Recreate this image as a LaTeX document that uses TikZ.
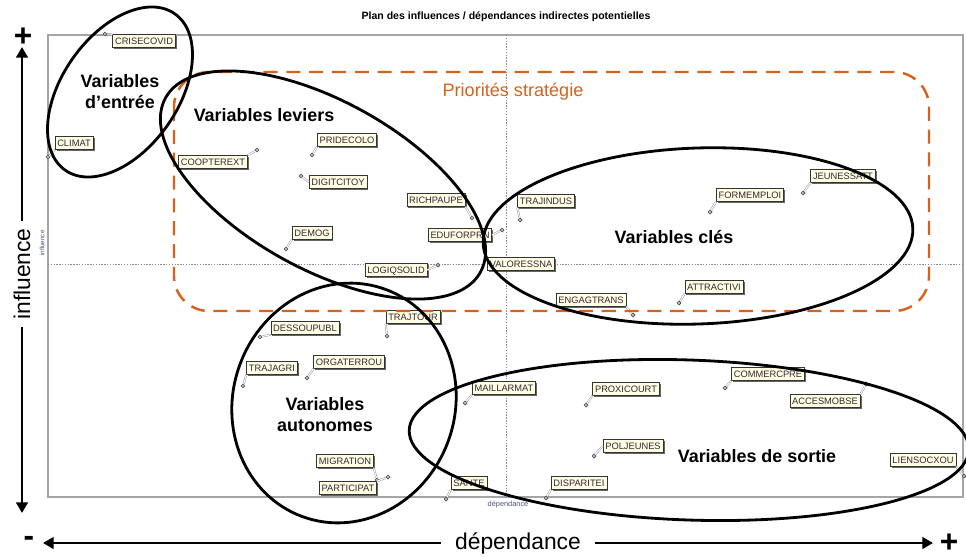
\documentclass[tikz,border=0pt]{standalone}
\usepackage{fontspec}
\setmainfont{Liberation Sans}
\usetikzlibrary{arrows.meta,shadows}
\definecolor{prio}{RGB}{214,98,28}
\definecolor{cream}{RGB}{255,255,228}
\definecolor{vartext}{RGB}{55,35,55}
\definecolor{framegray}{RGB}{165,165,165}
\definecolor{captxt}{RGB}{70,85,125}
\begin{document}
\begin{tikzpicture}[x=0.02cm,y=-0.02cm,
  varbox/.style={draw=black!80, line width=0.35pt, fill=cream, text=vartext,
    font=\fontsize{5.3}{6}\selectfont, inner xsep=1.3pt, inner ysep=1.7pt,
    text height=3.9pt, text depth=0pt,
    drop shadow={shadow xshift=0.9pt, shadow yshift=-0.9pt, fill=black!60, opacity=1}},
  varpt/.style={circle, draw=black!65, fill=black!20, line width=0.45pt,
    inner sep=0pt, minimum size=2.2pt},
  leader/.style={draw=black!45, line width=0.25pt, double=white, double distance=0.6pt},
  grp/.style={font=\fontsize{10.2}{12}\selectfont\bfseries, align=center, inner sep=0pt},
  zone/.style={line width=1.6pt, draw=black},
  axisline/.style={line width=1.7pt, -{Triangle[length=6pt,width=6.5pt]}},
  sign/.style={font=\fontsize{18}{18}\selectfont\bfseries, inner sep=0pt},
  axislab/.style={font=\fontsize{13}{13}\selectfont, inner sep=4pt},
  midline/.style={draw=black!45, line width=0.4pt, dash pattern=on 0.8pt off 0.8pt},
]
\useasboundingbox (0,0) rectangle (966,557);

% title
\node[font=\fontsize{6}{7}\selectfont\bfseries] (title) at (506,17)
  {Plan des influences / dépendances indirectes potentielles};

% plotting frame and median lines
\draw[framegray, line width=0.8pt] (48,35) rectangle (963,497);
\coordinate (vtop) at (506,35);   \coordinate (vbot) at (506,497);
\coordinate (hleft) at (48,264);  \coordinate (hright) at (963,264);
\draw[midline] (vtop) -- (vbot);
\draw[midline] (hleft) -- (hright);
\node[rotate=90, text=captxt, font=\fontsize{3.6}{4}\selectfont] (infsmall) at (42,243) {influence};
\node[text=captxt, font=\fontsize{4.2}{5}\selectfont] (depsmall) at (508,505) {dépendance};

% variables: label box, point, leader
\newcommand\variable[5]{%
  \node[varbox] (#1) at (#2) {#3};
  \node[varpt] (#1-p) at (#4) {};
  \draw[leader] (#1-p) -- (#1.#5);
}
\variable{crisecovid}{144,41}{CRISECOVID}{105,34}{north west}
\variable{climat}{74,143}{CLIMAT}{48,157}{south west}
\variable{coopterext}{213,162}{COOPTEREXT}{257,150}{north east}
\variable{pridecolo}{347,140}{PRIDECOLO}{312,155}{south west}
\variable{digitcitoy}{338,182}{DIGITCITOY}{301,176}{west}
\variable{richpaupe}{436,200}{RICHPAUPE}{472,218}{south east}
\variable{demog}{312,233}{DEMOG}{286,249}{south west}
\variable{eduforprn}{460,235}{EDUFORPRN}{502,230}{east}
\variable{logiqsolid}{396,270}{LOGIQSOLID}{438,265}{east}
\node[varbox] (valoressna) at (521,264) {VALORESSNA};
\variable{trajindus}{546,201}{TRAJINDUS}{520,220}{south west}
\variable{formemploi}{750,195}{FORMEMPLOI}{710,212}{south west}
\variable{jeunessatt}{843,176}{JEUNESSATT}{803,193}{south west}
\variable{attractivi}{714,287}{ATTRACTIVI}{679,303}{south west}
\variable{engagtrans}{591,300}{ENGAGTRANS}{633,315}{south east}
\variable{trajtour}{413,317}{TRAJTOUR}{387,336}{south west}
\variable{dessoupubl}{305,328}{DESSOUPUBL}{260,337}{south west}
\variable{orgaterrou}{349,362}{ORGATERROU}{307,378}{south west}
\variable{trajagri}{272,368}{TRAJAGRI}{243,386}{south west}
\variable{maillarmat}{504,388}{MAILLARMAT}{465,403}{south west}
\variable{migration}{345,461}{MIGRATION}{377,480}{south east}
\variable{participat}{348,488}{PARTICIPAT}{388,477}{north east}
\variable{sante}{469,483}{SANTE}{446,499}{south west}
\variable{proxicourt}{626,389}{PROXICOURT}{586,405}{south west}
\variable{commercpre}{768,374}{COMMERCPRE}{725,388}{south west}
\variable{accesmobse}{825,401}{ACCESMOBSE}{866,384}{north east}
\variable{poljeunes}{633,446}{POLJEUNES}{594,456}{west}
\variable{dispartei}{579,483}{DISPARITEI}{546,498}{south west}
\variable{liensocxou}{923,460}{LIENSOCXOU}{964,476}{south east}

% strategic priority zone
\draw[prio, line width=1.4pt, dash pattern=on 8pt off 5pt, rounded corners=0.7cm]
  (174,72) rectangle (929,311);
\node[text=prio, font=\fontsize{10.3}{12}\selectfont] (prio) at (513,92) {Priorités stratégie};

% groups of variables
\draw[zone, shift={(120,92)}, rotate=55] (0,0) ellipse [x radius=1.91cm, y radius=1.16cm];
\draw[zone, shift={(323,185)}, rotate=-29] (0,0) ellipse [x radius=3.6cm, y radius=1.68cm];
\draw[zone, shift={(698,236)}, rotate=2] (0,0) ellipse [x radius=4.3cm, y radius=1.76cm];
\draw[zone, shift={(344,403)}, rotate=70] (0,0) ellipse [x radius=2.42cm, y radius=2.22cm];
\draw[zone, shift={(689,440)}, rotate=-2] (0,0) ellipse [x radius=5.6cm, y radius=1.6cm];

\node[grp] (g-entree) at (120,92) {Variables\\d’entrée};
\node[grp] (g-leviers) at (264,115) {Variables leviers};
\node[grp] (g-cles) at (674,237) {Variables clés};
\node[grp] (g-auto) at (325,415) {Variables\\autonomes};
\node[grp] (g-sortie) at (757,456) {Variables de sortie};

% axes
\node[sign] (plus-inf) at (23,37) {+};
\node[axislab, rotate=90] (inflab) at (22,274) {influence};
\coordinate (inf-top) at (22,47);
\coordinate (inf-bot) at (22,513);
\draw[axisline] (inflab.east) -- (inf-top);
\draw[axisline] (inflab.west) -- (inf-bot);

\node[sign] (minus-dep) at (29,541) {-};
\node[sign] (plus-dep) at (949,543) {+};
\node[axislab, inner xsep=8pt] (deplab) at (518,543) {dépendance};
\coordinate (dep-left) at (43,543);
\coordinate (dep-right) at (933,543);
\draw[axisline] (deplab.west) -- (dep-left);
\draw[axisline] (deplab.east) -- (dep-right);
\end{tikzpicture}
\end{document}
